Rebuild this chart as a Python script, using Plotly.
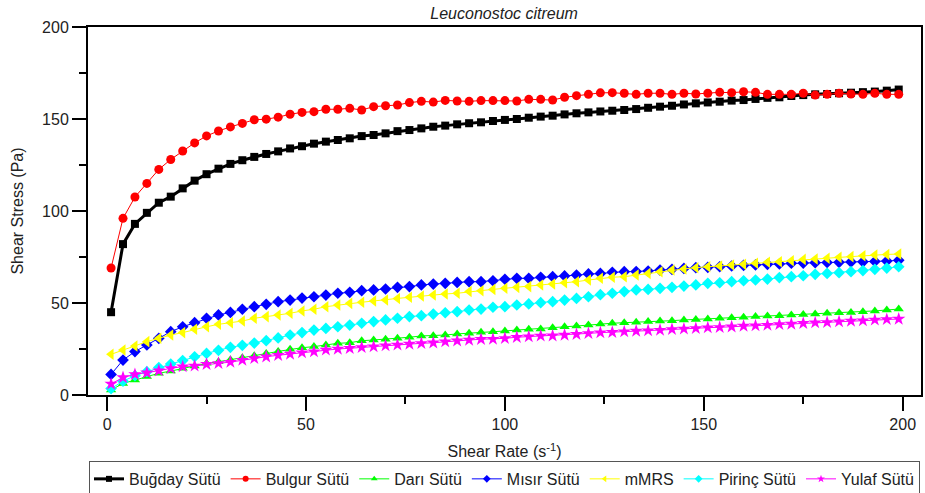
import plotly.graph_objects as go

# Shear rate grid (s^-1)
shear_rate = list(range(1, 200, 3))

# Shear stress (Pa) for each sample
bugday = [45, 82, 93, 99, 104.5, 107.8, 112.3, 116.5, 120, 123,
          125.6, 127.6, 129.4, 131, 132.4, 134, 135.2, 136.6, 137.7, 138.6,
          139.5, 140.7, 141.3, 142.2, 143.4, 144, 144.9, 145.8, 146.4, 147.1,
          147.7, 148.2, 148.9, 149.5, 150, 150.7, 151.3, 151.8, 152.5, 153.1,
          153.6, 154.1, 154.5, 154.9, 155.4, 156.1, 156.7, 157.2, 157.9, 158.5,
          159, 159.4, 160, 160.3, 160.9, 161.5, 161.8, 162.5, 163, 163.4,
          163.6, 164, 164.3, 164.6, 164.9, 165.4, 166]
bulgur = [69, 96, 107.6, 115, 122.6, 128, 132.6, 137, 140.8, 143.5,
          145.7, 147.6, 149.6, 149.9, 151, 152.6, 153.6, 154, 155.3, 155.3,
          155.8, 154.9, 156.7, 157.2, 157.6, 158.9, 159.6, 159.2, 160.1, 159.8,
          159.6, 160, 160, 160, 159.8, 160.7, 160.7, 160.3, 161.8, 162.7,
          163.4, 164.2, 164.3, 164, 163.4, 164, 164, 163.4, 164, 163.6,
          164, 164.5, 164.3, 164.8, 164.5, 163.4, 163.4, 163.4, 164, 163,
          163.4, 164, 163.6, 163.4, 164, 163.4, 163.4]
dari = [2.7, 6.3, 8.1, 10, 11.8, 13, 14.5, 15.8, 17.2, 18.1,
        19.1, 20.2, 21.3, 22.5, 23.7,
        24.8, 25.7, 26.3, 27.2, 28.1, 28.4, 29.5, 29.9, 30.3, 30.8,
        31.4, 32.1, 32.2, 32.6, 33.2, 33.5, 34.1, 34.4, 34.8, 35.3,
        35.7, 35.9, 36.6, 37.1, 37.5, 38,
        38.6, 39, 39.3, 39.5, 39.9, 40.2, 40.4, 40.8, 41.1, 41.3,
        41.7, 42, 42.2, 42.6, 42.9, 43.1, 43.5, 43.8, 44, 44.4,
        44.7, 44.9, 45.3, 45.7, 46.2, 46.7]
misir = [11.2, 19, 23.6, 27.2, 30.8, 34.4, 37.1, 39.3, 41.7, 43.5,
         44.9, 46.6, 48, 49.3, 50.7, 51.6, 52.7, 53.4,
         54.3, 55.3, 55.8, 56.7, 57.1, 57.6, 58.5, 58.9, 59.8, 60.3,
         60.7, 61.2, 61.6, 61.6, 62.1, 62.9, 63.4, 63.4, 64, 64.3,
         64.7, 65.2, 65.8,
         66.1, 66.7, 67, 67.1, 67.4, 67.9, 68.3, 68.8, 69.2, 69.4,
         69.7, 70.1, 70.5, 70.7, 71, 71.2, 71.6, 71.7, 71.9, 72,
         72.1, 72.3, 72.4, 72.6, 72.8, 73.2]
mmrs = [22.1, 24.5, 26.6, 29, 30.8, 32.6, 33.9, 35.7, 37.1, 38.4,
        39.3, 40.2, 41.7, 42.6, 43.5,
        44.4, 45.7, 46.6, 48, 48.9, 49.8, 50.4, 51.1, 51.6, 52.5,
        53.1, 53.8, 54.3, 54.9, 55.3, 56.2, 56.7, 57.4, 58, 58.5,
        58.9, 59.8, 60.3, 61, 61.6, 62.5,
        63.4, 64, 64.3, 65.2, 66.1, 67, 67.9, 68.5, 69.2, 69.7,
        70.1, 70.7, 71, 71.6, 72.1, 72.4, 73, 73.7, 73.9, 74.3,
        74.8, 75.2, 75.7, 76.1, 76.4, 76.6]
pirinc = [3.5, 7.5, 10.5, 12.7, 14.9, 16.8, 18.7, 20.8, 22.6, 24.3,
          25.9, 27, 28.2, 29.5, 31,
          32.6, 33.9, 35.3, 36.2, 37.1, 38, 39, 39.9, 40.8, 41.7,
          42.6, 43.1, 44, 44.7, 45.3, 46.2, 46.7, 47.7, 48, 48.9,
          49.5, 50.2, 50.7, 51.6, 52.5, 53.4,
          54.5, 55.3, 56.2, 57.1, 57.4, 58, 58.5, 59.2, 59.8, 60.7,
          61, 61.6, 62.1, 62.5, 63, 63.8, 64.3, 64.8, 65.6, 66.1,
          66.5, 67, 67.6, 68.3, 69, 69.7]
yulaf = [6, 9.5, 11.2, 12.1, 13.2, 14.5, 15.4, 15.8, 16.7, 17.2,
         17.9, 19, 19.9, 20.8, 21.6,
         22.3, 23, 23.6, 24.5, 25, 25.4, 25.9, 26.3, 26.8, 27.2,
         27.7, 28.1, 28.4, 29, 29.5, 29.9, 30.3, 30.4, 30.8, 31.4,
         31.7, 32.1, 32.2, 32.6, 33, 33.5,
         33.9, 34.1, 34.4, 34.8, 35, 35.3, 35.7, 35.9, 36.2, 36.6,
         36.8, 37.1, 37.5, 37.7, 38, 38.4, 38.6, 39, 39.3, 39.5,
         39.9, 40.2, 40.4, 40.8, 41.1, 41.3]

series_names = ["Buğday Sütü", "Bulgur Sütü", "Darı Sütü", "Mısır Sütü",
                "mMRS", "Pirinç Sütü", "Yulaf Sütü"]
series_values = [bugday, bulgur, dari, misir, mmrs, pirinc, yulaf]
colors = ["#000000", "#ff0000", "#00ff00", "#0000ff", "#ffff00", "#00ffff", "#ff00ff"]
symbols = ["square", "circle", "triangle-up", "diamond", "triangle-left", "diamond", "star"]
marker_sizes = [8, 9, 9, 9, 10, 9, 10]
line_widths = [3, 1, 1, 1, 1, 1, 1]

FONT = "Liberation Sans, Arial, sans-serif"
TEXT_COLOR = "#222222"

fig = go.Figure()
for name, vals, col, sym, ms, lw in zip(series_names, series_values, colors,
                                        symbols, marker_sizes, line_widths):
    assert len(vals) == len(shear_rate), name
    # data curve
    fig.add_trace(go.Scatter(
        x=shear_rate, y=vals, name=name, mode="lines+markers",
        line=dict(color=col, width=lw),
        marker=dict(symbol=sym, size=ms, color=col, line=dict(width=0)),
        showlegend=False, legendgroup=name,
    ))
    # legend entry with a smaller symbol
    fig.add_trace(go.Scatter(
        x=[None], y=[None], name=name, mode="lines+markers",
        line=dict(color=col, width=lw),
        marker=dict(symbol=sym, size=6, color=col, line=dict(width=0)),
        showlegend=True, legendgroup=name,
    ))

axis_common = dict(
    showline=True, linecolor="black", linewidth=2, mirror=True,
    ticks="outside", ticklen=14, tickwidth=2, tickcolor="black",
    showgrid=False, zeroline=False,
    tickfont=dict(family=FONT, size=16, color=TEXT_COLOR),
)
minor_ticks = dict(dtick=25, ticks="outside", ticklen=7, tickwidth=2, tickcolor="black")

fig.update_xaxes(
    range=[-4.8, 204.6], tick0=0, dtick=50, minor=minor_ticks,
    title=dict(text="Shear Rate (s<sup>-1</sup>)", standoff=14,
               font=dict(family=FONT, size=16, color=TEXT_COLOR)),
    **axis_common,
)
fig.update_yaxes(
    range=[0, 200], tick0=0, dtick=50, minor=minor_ticks,
    title=dict(text="Shear Stress (Pa)", standoff=14,
               font=dict(family=FONT, size=16, color=TEXT_COLOR)),
    **axis_common,
)

fig.update_layout(
    width=925, height=493,
    margin=dict(l=88, r=4, t=27, b=98, autoexpand=False),
    paper_bgcolor="white", plot_bgcolor="white",
    title=dict(text="<i>Leuconostoc citreum</i>", x=0.545, xanchor="center",
               y=0.972, yanchor="middle",
               font=dict(family=FONT, size=16, color=TEXT_COLOR)),
    legend=dict(orientation="h", x=0.5, xanchor="center",
                yref="container", y=0.065, yanchor="top",
                font=dict(family=FONT, size=16, color=TEXT_COLOR),
                bordercolor="#555555", borderwidth=1,
                tracegroupgap=0),
    showlegend=True,
)

fig.write_html("out.html")
